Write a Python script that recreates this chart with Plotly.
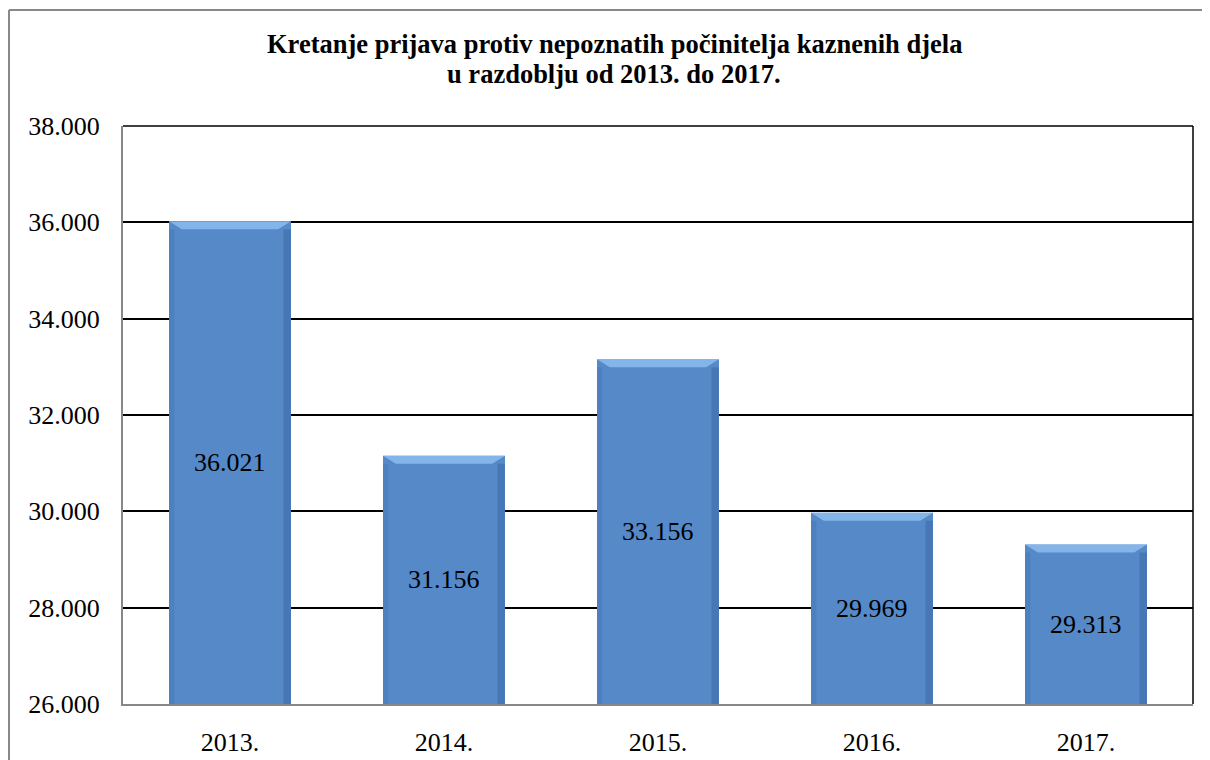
import plotly.graph_objects as go

years = ["2013.", "2014.", "2015.", "2016.", "2017."]
counts = [36021, 31156, 33156, 29969, 29313]
y_ticks = [26000, 28000, 30000, 32000, 34000, 36000, 38000]
title_lines = ["Kretanje prijava protiv nepoznatih počinitelja kaznenih djela",
               "u razdoblju od 2013. do 2017."]

font_family = "Liberation Serif"
bar_width = 0.57
Y0, Y1 = 26000, 38000
OFF = 8  # page body margin
W, H = 1210 - OFF, 760 - OFF
L, R, T, B = 123 - OFF, 17, 126 - OFF, 56
plot_w = W - L - R
plot_h = H - T - B
units_per_px = (Y1 - Y0) / plot_h


def px_x(x):  # reference pixel -> paper x
    return (x - OFF - L) / plot_w


def px_y(y):  # reference pixel -> paper y
    return (H - B - (y - OFF)) / plot_h


def fmt(v):
    return f"{v:,}".replace(",", ".")


idx = list(range(len(years)))

fig = go.Figure()
fig.add_trace(go.Bar(
    x=idx, y=counts,
    width=bar_width,
    marker=dict(color="#5589C8", line=dict(width=0)),
    textposition="none",
    hoverinfo="skip",
))

# bevel look: light top band and darker side strips, derived from the data
hw = bar_width / 2
for i, v in zip(idx, counts):
    band = 8 * units_per_px
    fig.add_shape(type="path", xref="x", yref="y", layer="above",
                  path=(f"M {i - hw} {v} L {i + hw} {v} L {i + hw - 0.06} {v - band} "
                        f"L {i - hw + 0.06} {v - band} Z"),
                  fillcolor="rgba(140,188,240,0.85)", line=dict(width=0))
    fig.add_shape(type="rect", xref="x", yref="y", layer="above",
                  x0=i + hw - 0.035, x1=i + hw, y0=Y0, y1=v - band,
                  fillcolor="rgba(40,80,140,0.3)", line=dict(width=0))
    fig.add_shape(type="rect", xref="x", yref="y", layer="above",
                  x0=i - hw, x1=i - hw + 0.025, y0=Y0, y1=v - band,
                  fillcolor="rgba(40,80,140,0.15)", line=dict(width=0))
    fig.add_annotation(x=i, y=(Y0 + v) / 2, xref="x", yref="y",
                       text=fmt(v), showarrow=False,
                       xanchor="center", yanchor="middle",
                       font=dict(family=font_family, size=26, color="black"))

fig.update_layout(
    width=W, height=H,
    separators=",.",
    paper_bgcolor="white", plot_bgcolor="white",
    margin=dict(l=L, r=R, t=T, b=B, autoexpand=False),
    showlegend=False,
    font=dict(family=font_family, size=26, color="black"),
)
for txt, ypx in zip(title_lines, [44, 74]):
    fig.add_annotation(text="<b>" + txt + "</b>", xref="paper", yref="paper",
                       x=px_x(614), y=px_y(ypx),
                       xanchor="center", yanchor="middle", showarrow=False,
                       font=dict(family=font_family, size=26.5, color="black"))

fig.update_yaxes(
    range=[Y0, Y1], tickvals=y_ticks, tickformat=",d",
    showgrid=True, gridcolor="black", gridwidth=1.5,
    showline=True, linecolor="#888888", linewidth=2,
    ticks="outside", ticklen=16, tickcolor="rgba(0,0,0,0)",
    zeroline=False, automargin=False,
    tickfont=dict(family=font_family, size=26, color="black"),
)
fig.update_xaxes(
    range=[-0.5, len(years) - 0.5],
    tickmode="array", tickvals=idx, ticktext=years,
    showline=True, linecolor="#888888", linewidth=2,
    ticks="outside", ticklen=14, tickcolor="rgba(0,0,0,0)",
    showgrid=False, zeroline=False, automargin=False,
    tickfont=dict(family=font_family, size=26, color="black"),
)
# right/top plot border and outer chart border
fig.add_shape(type="line", xref="paper", yref="paper", x0=1, x1=1, y0=0, y1=1,
              line=dict(color="black", width=1.5))
fig.add_shape(type="line", xref="paper", yref="paper", x0=0, x1=1, y0=1, y1=1,
              line=dict(color="black", width=1.5))
fig.add_shape(type="line", xref="paper", yref="paper",
              x0=px_x(9), x1=px_x(9), y0=px_y(780), y1=px_y(10),
              line=dict(color="#888888", width=2))
fig.add_shape(type="line", xref="paper", yref="paper",
              x0=px_x(9), x1=px_x(1220), y0=px_y(10), y1=px_y(10),
              line=dict(color="#888888", width=2))

fig.write_html("out.html")
